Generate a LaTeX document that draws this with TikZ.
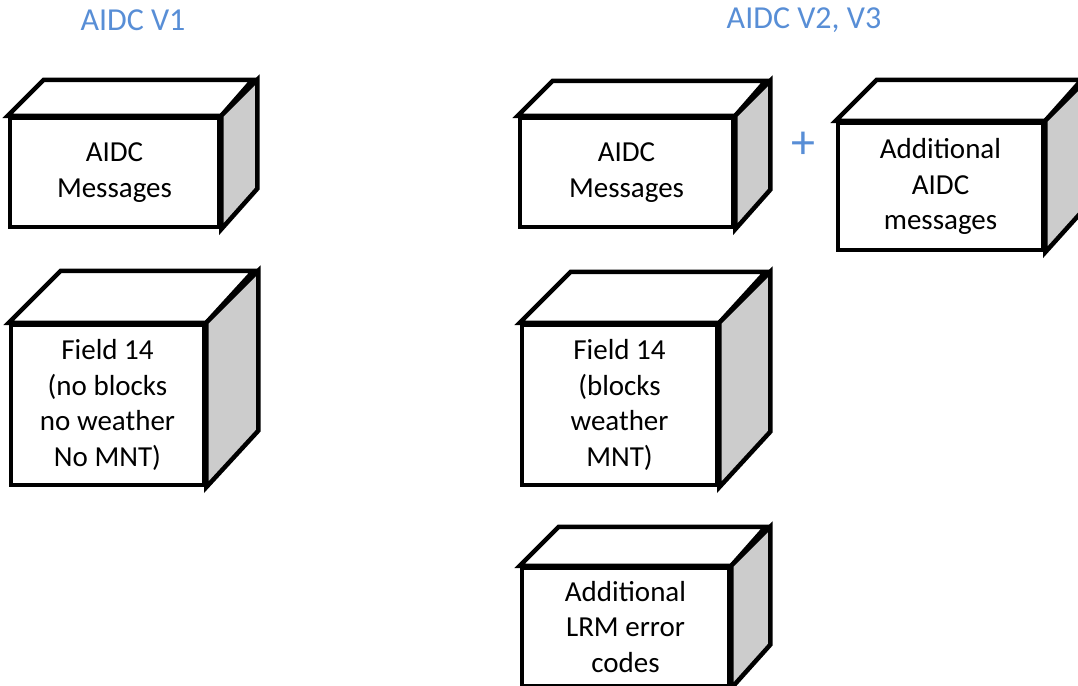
\documentclass[tikz,border=0pt]{standalone}
\usepackage{fontspec}
\setmainfont{Carlito}
\definecolor{headblue}{RGB}{88,142,214}
\definecolor{sidegray}{RGB}{204,204,204}
\usepackage{tikz}
\usetikzlibrary{positioning}

\begin{document}
\begin{tikzpicture}[x=1pt, y=-1pt,
  face/.style={rectangle, draw, line width=4.5pt, fill=white, inner sep=0pt, align=center,
    font=\fontsize{29}{35.5}\selectfont},
  side/.style={draw, line width=4.5pt, fill=sidegray},
  lid/.style={draw, line width=4.5pt, fill=white},
  head/.style={text=headblue, font=\fontsize{32}{38}\selectfont}
]
\useasboundingbox (0,0) rectangle (1078,685);

\node[head] (T1) at (133,20) {AIDC V1};
\node[head] (T2) at (804,20) {AIDC V2, V3};

% V1 column
\node[face, minimum width=209pt, minimum height=109pt] (M1) at (114.5,172.5) {AIDC\\Messages};
\draw[lid] (M1.north west) -- ++(36,-36) -- ++(209,0) -- (M1.north east) -- cycle;
\draw[side] (M1.north east) -- ++(36,-36) -- ++(0,109) -- (M1.south east) -- cycle;

\node[face, minimum width=193pt, minimum height=160pt] (F1) at (107.5,405) {Field 14\\(no blocks\\no weather\\No MNT)};
\draw[lid] (F1.north west) -- ++(52,-52) -- ++(193,0) -- (F1.north east) -- cycle;
\draw[side] (F1.north east) -- ++(52,-52) -- ++(0,160) -- (F1.south east) -- cycle;

% V2, V3 column
\node[face, minimum width=213pt, minimum height=109pt] (M2) at (626.5,172.5) {AIDC\\Messages};
\draw[lid] (M2.north west) -- ++(35,-35) -- ++(213,0) -- (M2.north east) -- cycle;
\draw[side] (M2.north east) -- ++(35,-35) -- ++(0,109) -- (M2.south east) -- cycle;

\node[text=headblue, font=\fontsize{48}{48}\selectfont] (P) at (803,145) {+};

\node[face, minimum width=205pt, minimum height=127pt] (A2) at (940.5,186.5) {Additional\\AIDC\\messages};
\draw[lid] (A2.north west) -- ++(41,-41) -- ++(205,0) -- (A2.north east) -- cycle;
\draw[side] (A2.north east) -- ++(41,-41) -- ++(0,127) -- (A2.south east) -- cycle;

\node[face, minimum width=195pt, minimum height=160pt] (F2) at (619.5,405) {Field 14\\(blocks\\weather\\MNT)};
\draw[lid] (F2.north west) -- ++(51,-51) -- ++(195,0) -- (F2.north east) -- cycle;
\draw[side] (F2.north east) -- ++(51,-51) -- ++(0,160) -- (F2.south east) -- cycle;

\node[face, minimum width=207pt, minimum height=118pt] (L2) at (625.5,627) {Additional\\LRM error\\codes};
\draw[lid] (L2.north west) -- ++(39,-39) -- ++(207,0) -- (L2.north east) -- cycle;
\draw[side] (L2.north east) -- ++(39,-39) -- ++(0,118) -- (L2.south east) -- cycle;

\end{tikzpicture}
\end{document}
